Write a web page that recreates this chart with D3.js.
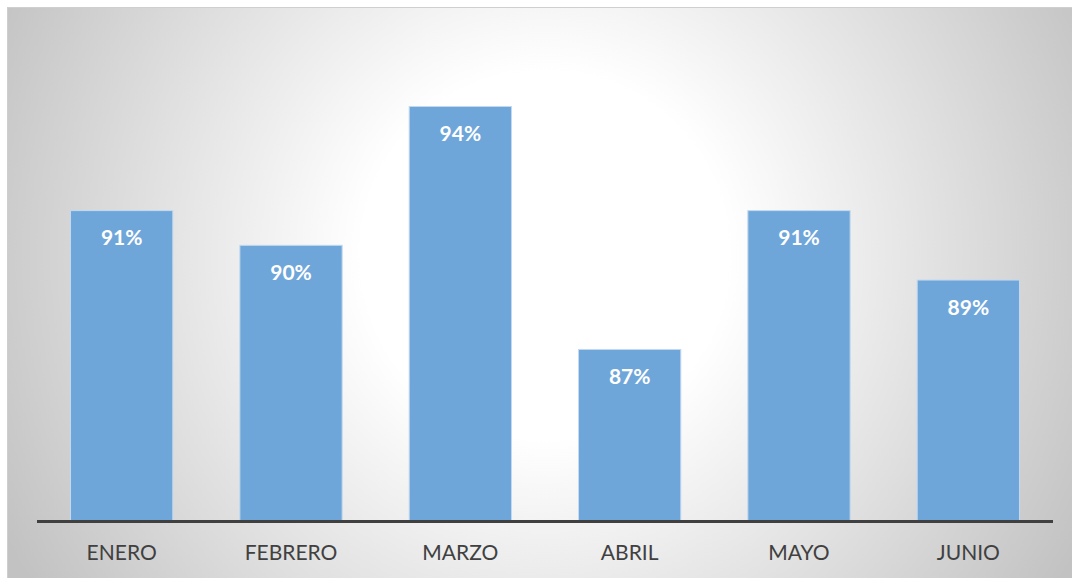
<!DOCTYPE html>
<html>
<head>
<meta charset="utf-8">
<script src="https://cdn.jsdelivr.net/npm/d3@7"></script>
<style>
  html, body { margin: 0; padding: 0; background: #ffffff; }
  svg { display: block; }
</style>
</head>
<body>
<svg id="chart" width="1072" height="578"></svg>
<script>
const categories = ["ENERO", "FEBRERO", "MARZO", "ABRIL", "MAYO", "JUNIO"];
const values = [0.91, 0.90, 0.94, 0.87, 0.91, 0.89];
const yDomain = [0.82, 0.96];

const svg = d3.select("#chart");
const W = 1072, H = 578;

const defs = svg.append("defs");
const grad = defs.append("radialGradient")
  .attr("id", "bg")
  .attr("gradientUnits", "userSpaceOnUse")
  .attr("cx", 545).attr("cy", 255).attr("r", 610);
grad.append("stop").attr("offset", 0).attr("stop-color", "#ffffff");
grad.append("stop").attr("offset", 0.3).attr("stop-color", "#ffffff");
grad.append("stop").attr("offset", 1).attr("stop-color", "#c2c2c2");

svg.append("rect")
  .attr("x", 7.5).attr("y", 7.5)
  .attr("width", W).attr("height", H)
  .attr("fill", "url(#bg)")
  .attr("stroke", "#cfcfcf").attr("stroke-width", 1);

const x = d3.scaleBand()
  .domain(categories)
  .range([37, 1053])
  .paddingInner(0.39)
  .paddingOuter(0.195);

const y = d3.scaleLinear()
  .domain(yDomain)
  .range([522.5, 522.5 - 14 * 34.71]);

const data = categories.map((c, i) => ({ c, v: values[i] }));

svg.append("g").selectAll("rect")
  .data(data)
  .join("rect")
  .attr("x", d => x(d.c) + 0.5)
  .attr("y", d => y(d.v) + 0.5)
  .attr("width", x.bandwidth() - 1)
  .attr("height", d => y(yDomain[0]) - y(d.v) - 1)
  .attr("fill", "#6fa6da")
  .attr("stroke", "#c3d9ef")
  .attr("stroke-width", 1);

svg.append("g").selectAll("text")
  .data(data)
  .join("text")
  .attr("x", d => x(d.c) + x.bandwidth() / 2)
  .attr("y", d => y(d.v) + 35)
  .attr("text-anchor", "middle")
  .attr("font-family", "Lato, 'Open Sans', sans-serif")
  .attr("font-weight", "bold")
  .attr("font-size", 21)
  .attr("fill", "#ffffff")
  .text(d => d3.format(".0%")(d.v));

// baseline axis
const axis = d3.axisBottom(x).tickSize(0).tickSizeOuter(0).tickPadding(0);
const gAxis = svg.append("g").attr("transform", "translate(0,521.5)").call(axis);
gAxis.select(".domain")
  .attr("d", "M37,0H1053")
  .attr("stroke", "#404040")
  .attr("stroke-width", 3);
gAxis.selectAll(".tick text")
  .attr("y", 38.5)
  .attr("dy", null)
  .attr("font-family", "Lato, 'Open Sans', sans-serif")
  .attr("font-size", 21)
  .attr("fill", "#404040");
</script>
</body>
</html>
